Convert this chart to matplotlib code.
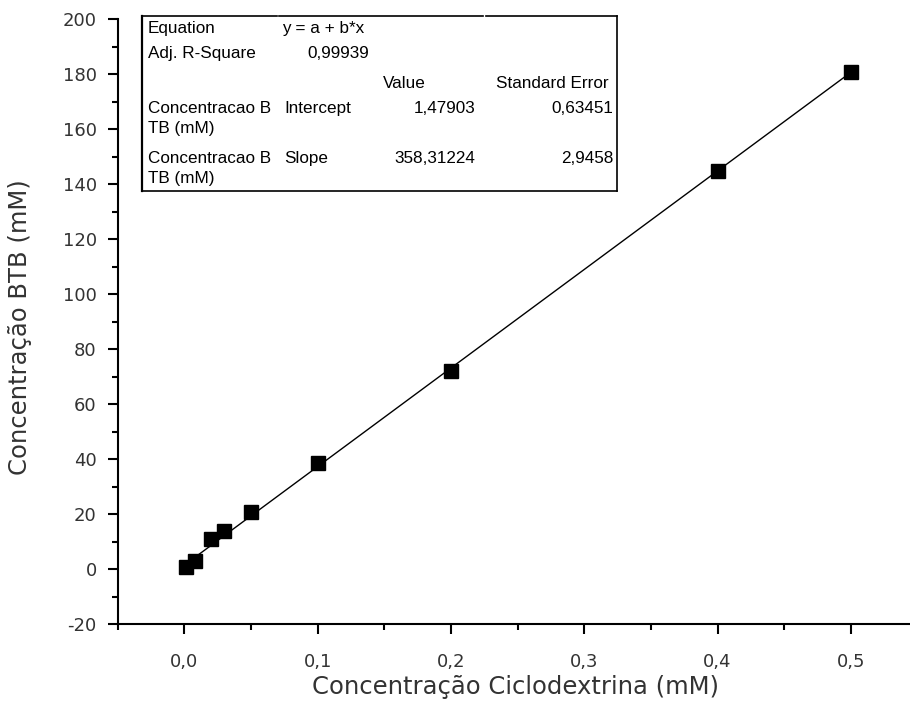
import matplotlib.pyplot as plt
from matplotlib.ticker import MultipleLocator, FuncFormatter
from matplotlib.lines import Line2D

# data
conc_ciclo = [0.001, 0.008, 0.02, 0.03, 0.05, 0.1, 0.2, 0.4, 0.5]
conc_btb = [0.7, 2.9, 10.9, 13.8, 20.8, 38.7, 72.1, 144.7, 180.8]

# linear fit results shown in the box
intercept = 1.47903
slope = 358.31224
fit_x = [conc_ciclo[0], conc_ciclo[-1]]
fit_y = [intercept + slope * x for x in fit_x]

W, H = 910, 715
fig = plt.figure(figsize=(W / 100, H / 100), dpi=100)
ax = fig.add_axes([117.6 / W, 1 - 624.3 / H, 1 - 117.6 / W, (624.3 - 19) / H])

ax.plot(fit_x, fit_y, color='black', lw=1.0)
ax.plot(conc_ciclo, conc_btb, 's', color='black', markersize=10)

ax.set_xlim(-0.05, 0.5443)
ax.set_ylim(-20, 200)
ax.spines['top'].set_visible(False)
ax.spines['right'].set_visible(False)
for s in ('left', 'bottom'):
    ax.spines[s].set_linewidth(1.5)

ax.xaxis.set_major_locator(MultipleLocator(0.1))
ax.xaxis.set_minor_locator(MultipleLocator(0.05))
ax.yaxis.set_major_locator(MultipleLocator(20))
ax.yaxis.set_minor_locator(MultipleLocator(10))
ax.xaxis.set_major_formatter(FuncFormatter(lambda v, p: f'{v:.1f}'.replace('.', ',')))
ax.yaxis.set_major_formatter(FuncFormatter(lambda v, p: f'{v:.0f}'))
ax.tick_params(which='major', direction='out', length=7, width=1.5, labelsize=13)
ax.tick_params(which='minor', direction='out', length=4, width=1.5)
ax.tick_params(axis='x', which='major', pad=14)
ax.tick_params(axis='y', which='major', pad=8)
for lab in ax.get_xticklabels() + ax.get_yticklabels():
    lab.set_fontfamily('DejaVu Sans')
    lab.set_color('#333333')

ax.set_xlabel('Concentração Ciclodextrina (mM)', fontsize=17.5, color='#333333')
ax.set_ylabel('Concentração BTB (mM)', fontsize=17.5, color='#333333')
ax.xaxis.set_label_coords((516 - 117.6) / (W - 117.6), -(675 - 624.3) / (624.3 - 19))
ax.yaxis.set_label_coords(-(117.6 - 32) / (W - 117.6), (624.3 - 327) / (624.3 - 19))


# fit result box, placed in pixel coordinates
def fx(px):
    return px / W


def fy(py):
    return 1 - py / H


bl, br, bt, bb = 142, 617, 16, 191
fig.add_artist(Line2D([fx(bl), fx(bl)], [fy(bt), fy(bb)], color='black', lw=1.6))
fig.add_artist(Line2D([fx(br), fx(br)], [fy(bt), fy(bb)], color='black', lw=1.2))
fig.add_artist(Line2D([fx(bl), fx(br)], [fy(bb), fy(bb)], color='black', lw=1.2))
for a, b in [(bl, 277), (279, 483), (486, br)]:
    fig.add_artist(Line2D([fx(a), fx(b)], [fy(bt), fy(bt)], color='black', lw=1.2))

tkw = dict(fontsize=12.3, family='Liberation Sans', va='baseline', color='black')
fig.text(fx(148), fy(33), 'Equation', ha='left', **tkw)
fig.text(fx(282), fy(33), 'y = a + b*x', ha='left', **tkw)
fig.text(fx(148), fy(58), 'Adj. R-Square', ha='left', **tkw)
fig.text(fx(369), fy(58), '0,99939', ha='right', **tkw)
fig.text(fx(383), fy(88), 'Value', ha='left', **tkw)
fig.text(fx(609), fy(88), 'Standard Error', ha='right', **tkw)
rows = [('Intercept', '1,47903', '0,63451', 113),
        ('Slope', '358,31224', '2,9458', 163)]
for name, val, err, y in rows:
    fig.text(fx(148), fy(y), 'Concentracao B', ha='left', **tkw)
    fig.text(fx(148), fy(y + 20), 'TB (mM)', ha='left', **tkw)
    fig.text(fx(284), fy(y), name, ha='left', **tkw)
    fig.text(fx(475), fy(y), val, ha='right', **tkw)
    fig.text(fx(613), fy(y), err, ha='right', **tkw)

fig.savefig('out.png', dpi=100)
